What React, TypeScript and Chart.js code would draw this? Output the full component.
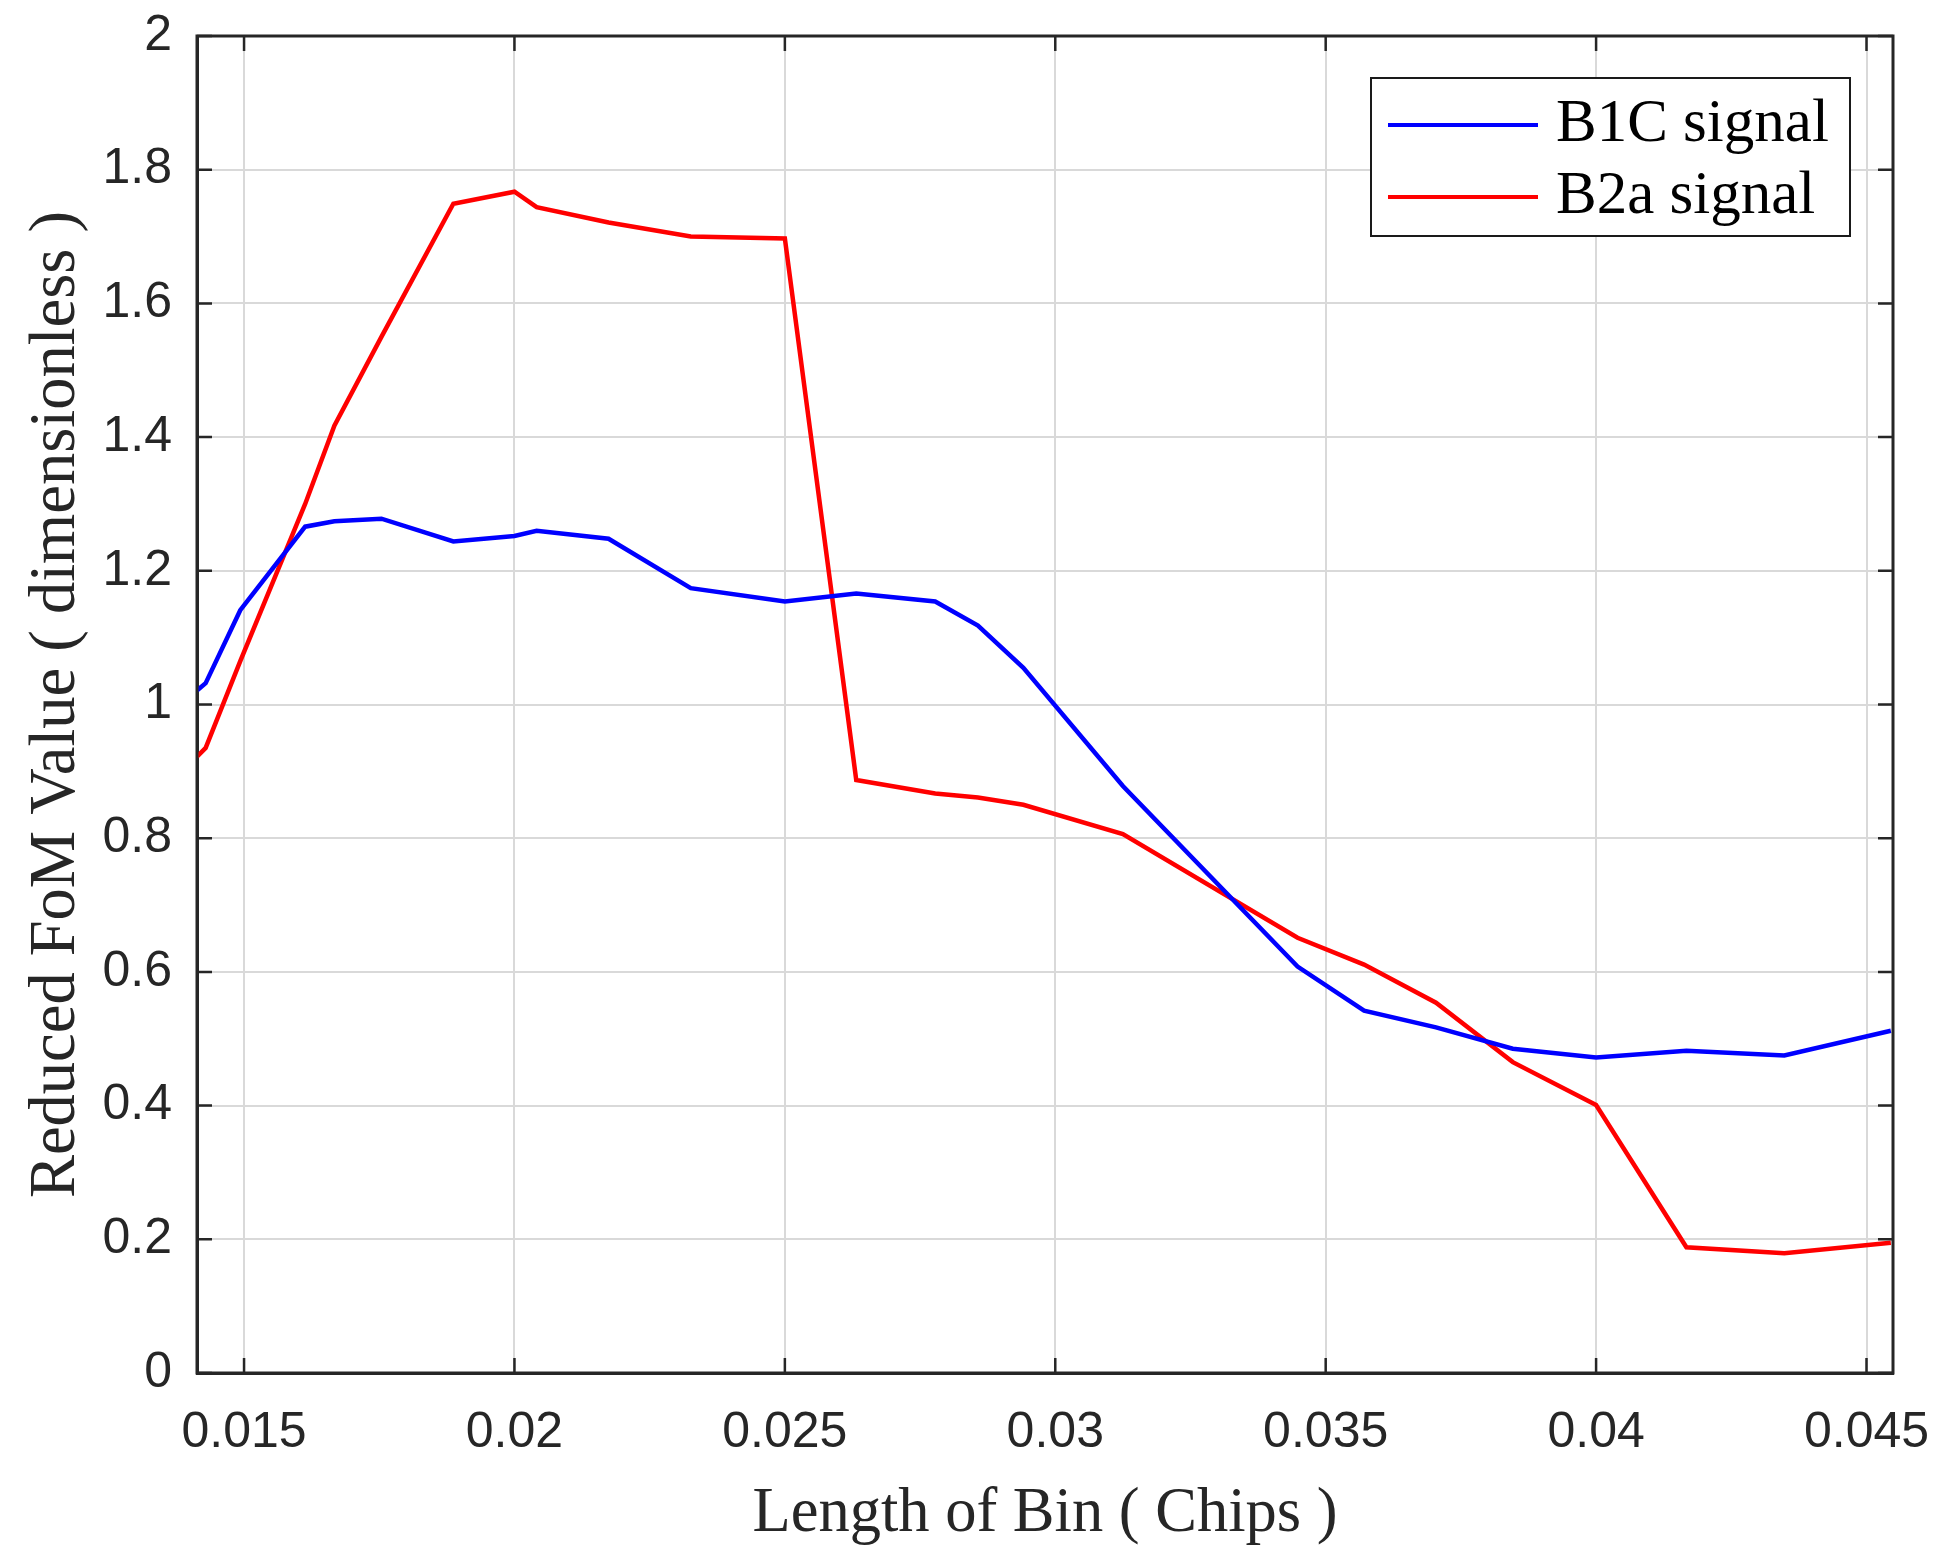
import React, { useEffect, useRef } from "react";
import { Chart, registerables } from "chart.js";

Chart.register(...registerables);

// Length of bin (chips)
const xValues = [
  0.01413, 0.01429, 0.01493, 0.01613, 0.01667, 0.01754, 0.01887, 0.02, 0.02041,
  0.02174, 0.02326, 0.025, 0.02632, 0.02778, 0.02857, 0.02941, 0.03125, 0.03448,
  0.03571, 0.03704, 0.03846, 0.04, 0.04167, 0.04348, 0.04545,
];

const b1cValues = [
  1.021, 1.032, 1.141, 1.266, 1.274, 1.278, 1.244, 1.252, 1.26, 1.248, 1.174,
  1.154, 1.166, 1.154, 1.118, 1.055, 0.878, 0.608, 0.542, 0.517, 0.485, 0.472,
  0.482, 0.475, 0.512,
];

const b2aValues = [
  0.922, 0.935, 1.065, 1.3, 1.417, 1.55, 1.749, 1.767, 1.744, 1.721, 1.7, 1.697,
  0.887, 0.867, 0.861, 0.85, 0.806, 0.651, 0.611, 0.554, 0.465, 0.401, 0.188,
  0.179, 0.195,
];

const seriesLabels = ["B1C signal", "B2a signal"];

const xTickValues = [0.015, 0.02, 0.025, 0.03, 0.035, 0.04, 0.045];
const xTickLabels = ["0.015", "0.02", "0.025", "0.03", "0.035", "0.04", "0.045"];
const yTickValues = [0, 0.2, 0.4, 0.6, 0.8, 1, 1.2, 1.4, 1.6, 1.8, 2];
const yTickLabels = ["0", "0.2", "0.4", "0.6", "0.8", "1", "1.2", "1.4", "1.6", "1.8", "2"];

const xMin = 0.01413;
const xMax = 0.04549;
const xTitle = "Length of Bin ( Chips )";
const yTitle = "Reduced FoM Value ( dimensionless )";

const AXIS_COLOR = "#262626";
const SERIF = "'Liberation Serif', 'Times New Roman', serif";
const SANS = "'Liberation Sans', Arial, sans-serif";

const zeroPadding = (scale: any) => {
  scale.paddingLeft = 0;
  scale.paddingRight = 0;
  scale.paddingTop = 0;
  scale.paddingBottom = 0;
};

const framePlugin = {
  id: "matlabFrame",
  afterDatasetsDraw(chart: any) {
    const { ctx, chartArea, scales } = chart;
    const { left, right, top, bottom } = chartArea;
    ctx.save();
    // inner tick marks
    ctx.strokeStyle = AXIS_COLOR;
    ctx.lineWidth = 2.5;
    const tl = 15;
    ctx.beginPath();
    xTickValues.forEach((v) => {
      const px = scales.x.getPixelForValue(v);
      ctx.moveTo(px, bottom);
      ctx.lineTo(px, bottom - tl);
      ctx.moveTo(px, top);
      ctx.lineTo(px, top + tl);
    });
    yTickValues.forEach((v) => {
      const py = scales.y.getPixelForValue(v);
      ctx.moveTo(left, py);
      ctx.lineTo(left + tl, py);
      ctx.moveTo(right, py);
      ctx.lineTo(right - tl, py);
    });
    ctx.stroke();
    // box
    ctx.lineWidth = 3;
    ctx.strokeRect(left, top, right - left, bottom - top);

    // legend
    const boxRight = right - 43;
    const boxTop = top + 42;
    const boxW = 479;
    const boxH = 158;
    const boxLeft = boxRight - boxW;
    ctx.fillStyle = "#ffffff";
    ctx.fillRect(boxLeft, boxTop, boxW, boxH);
    ctx.lineWidth = 2;
    ctx.strokeStyle = "#1a1a1a";
    ctx.strokeRect(boxLeft, boxTop, boxW, boxH);
    ctx.font = `61px ${SERIF}`;
    ctx.textBaseline = "middle";
    ctx.textAlign = "left";
    chart.data.datasets.forEach((ds: any, i: number) => {
      const cy = boxTop + 47 + i * 72;
      ctx.strokeStyle = ds.borderColor;
      ctx.lineWidth = 4;
      ctx.beginPath();
      ctx.moveTo(boxLeft + 17, cy);
      ctx.lineTo(boxLeft + 167, cy);
      ctx.stroke();
      ctx.fillStyle = "#000000";
      ctx.fillText(ds.label, boxLeft + 185, cy);
    });
    ctx.restore();
  },
};

export default function App() {
  const canvasRef = useRef<HTMLCanvasElement | null>(null);

  useEffect(() => {
    const canvas = canvasRef.current;
    if (!canvas) return;
    const chart = new Chart(canvas, {
      type: "line",
      data: {
        datasets: [
          {
            label: seriesLabels[0],
            data: xValues.map((x, i) => ({ x, y: b1cValues[i] })),
            borderColor: "#0000ff",
            borderWidth: 4.5,
            pointRadius: 0,
            tension: 0,
            fill: false,
          },
          {
            label: seriesLabels[1],
            data: xValues.map((x, i) => ({ x, y: b2aValues[i] })),
            borderColor: "#ff0000",
            borderWidth: 4.5,
            pointRadius: 0,
            tension: 0,
            fill: false,
          },
        ],
      },
      options: {
        animation: false,
        responsive: false,
        devicePixelRatio: 1,
        layout: { padding: { top: 36, right: 47, left: 0, bottom: 0 } },
        plugins: {
          legend: { display: false },
          tooltip: { enabled: false },
        },
        scales: {
          x: {
            type: "linear",
            min: xMin,
            max: xMax,
            afterBuildTicks: (scale: any) => {
              scale.ticks = xTickValues.map((v) => ({ value: v }));
            },
            afterFit: (scale: any) => {
              scale.height = 182;
              zeroPadding(scale);
            },
            ticks: {
              autoSkip: false,
              maxRotation: 0,
              minRotation: 0,
              padding: 35,
              color: AXIS_COLOR,
              font: { family: SANS, size: 50, lineHeight: 1 },
              callback: (_v: any, i: number) => xTickLabels[i],
            },
            grid: {
              color: "#d9d9d9",
              lineWidth: 2,
              drawTicks: false,
            },
            border: { display: true, color: AXIS_COLOR, width: 3 },
            title: {
              display: true,
              text: xTitle,
              color: AXIS_COLOR,
              font: { family: SERIF, size: 62.5, lineHeight: 1 },
              padding: { top: 0, bottom: 9 },
            },
          },
          y: {
            type: "linear",
            min: 0,
            max: 2,
            afterBuildTicks: (scale: any) => {
              scale.ticks = yTickValues.map((v) => ({ value: v }));
            },
            afterFit: (scale: any) => {
              scale.width = 197;
              zeroPadding(scale);
            },
            ticks: {
              autoSkip: false,
              padding: 25,
              color: AXIS_COLOR,
              font: { family: SANS, size: 50, lineHeight: 1 },
              callback: (_v: any, i: number) => yTickLabels[i],
            },
            grid: {
              color: "#d9d9d9",
              lineWidth: 2,
              drawTicks: false,
            },
            border: { display: true, color: AXIS_COLOR, width: 3 },
            title: {
              display: true,
              text: yTitle,
              color: AXIS_COLOR,
              font: { family: SERIF, size: 64.5, lineHeight: 1 },
              padding: { top: 25, bottom: 0 },
            },
          },
        },
      },
      plugins: [framePlugin],
    } as any);
    return () => chart.destroy();
  }, []);

  return (
    <div
      style={{
        position: "fixed",
        left: 0,
        top: 0,
        width: 1940,
        height: 1555,
        background: "#ffffff",
      }}
    >
      <canvas
        ref={canvasRef}
        width={1940}
        height={1555}
        style={{ width: 1940, height: 1555, display: "block" }}
      />
    </div>
  );
}
